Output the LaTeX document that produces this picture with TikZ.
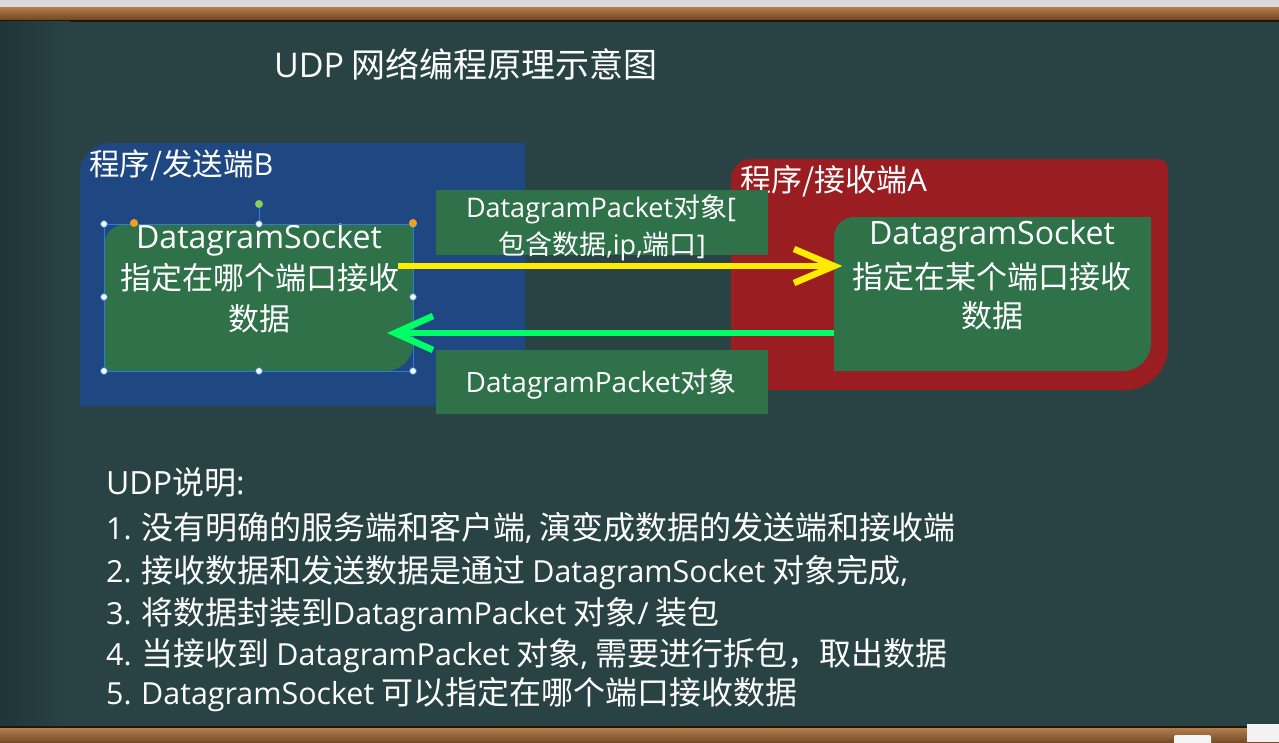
\documentclass[tikz,border=0pt]{standalone}
\usepackage{fontspec}
\setmainfont{Noto Sans CJK SC}
\newfontfamily\latinfam{Open Sans}
\newfontfamily\latinwide[Scale=1.035]{Open Sans}
\newfontfamily\latinnarrow[Scale=0.95]{Open Sans}
\newcommand\engl[1]{{\latinfam #1}}
\newcommand\englw[1]{{\latinwide #1}}
\newcommand\engln[1]{{\latinnarrow #1}}
\newcommand\fsz[1]{\fontsize{#1}{#1}\selectfont}

\definecolor{board}{RGB}{41,67,69}
\definecolor{boardedge}{RGB}{31,53,55}
\definecolor{woodlight}{RGB}{180,126,76}
\definecolor{wooddark}{RGB}{112,70,36}
\definecolor{topgray}{RGB}{218,218,222}
\definecolor{sendblue}{RGB}{31,71,130}
\definecolor{recvred}{RGB}{154,29,33}
\definecolor{boxgreen}{RGB}{47,113,72}
\definecolor{sendyellow}{RGB}{255,236,0}
\definecolor{backgreen}{RGB}{0,255,102}
\definecolor{selblue}{RGB}{45,125,210}
\definecolor{handorange}{RGB}{240,160,30}
\definecolor{handgreen}{RGB}{140,205,90}

\tikzset{
  wtext/.style={text=white, inner sep=0pt, anchor=base},
  ltext/.style={text=white, inner sep=0pt, anchor=base west},
  packetbox/.style={fill=boxgreen, draw=none},
  yline/.style={draw=sendyellow, line width=6.5pt, line join=miter},
  gline/.style={draw=backgreen, line width=6.5pt, line join=miter},
  handle/.style={circle, fill=white, draw=selblue, line width=0.8pt, inner sep=0pt, minimum size=7pt},
  ohandle/.style={circle, fill=handorange, inner sep=0pt, minimum size=8pt},
  rhandle/.style={circle, fill=handgreen, inner sep=0pt, minimum size=8pt},
}

\begin{document}
\begin{tikzpicture}[x=1pt,y=-1pt]
\useasboundingbox (0,0) rectangle (1279,742);

% chalkboard with its wooden frame
\fill[topgray] (0,0) rectangle (1279,7);
\shade[top color=woodlight, bottom color=wooddark] (0,7) rectangle (1279,20);
\fill[black!70!wooddark] (0,20) rectangle (1279,21.5);
\fill[board] (0,21.5) rectangle (1279,726);
\shade[left color=boardedge, right color=board] (0,21.5) rectangle (70,726);
\fill[black!70!wooddark] (0,726) rectangle (1279,728);
\shade[top color=woodlight, bottom color=wooddark!90!woodlight] (0,728) rectangle (1279,742);
\fill[white!92!gray, rounded corners=2pt] (1174,735) rectangle (1211,745);
\fill[white!90!gray] (1247,724) rectangle (1279,742);

% title
\node[wtext, anchor=base west] (title) at (274,77)
  {\fsz{34}\engl{UDP} 网络编程原理示意图};

% sender program area
\fill[sendblue] (80,406) -- (80,173) arc[start angle=180, end angle=270, radius=30]
  -- (525,143) -- (525,406) -- cycle;
\node[ltext] (senderlbl) at (89,175) {\fsz{30.5}程序/发送端\engl{B}};

% receiver program area
\fill[recvred] (731,390) -- (731,179) arc[start angle=180, end angle=270, radius=20]
  -- (1158,159) arc[start angle=270, end angle=360, radius=10]
  -- (1168,347) arc[start angle=0, end angle=90, radius=43] -- cycle;
\node[ltext] (recvlbl) at (740,191) {\fsz{31}程序/接收端\engl{A}};

% sender socket
\fill[boxgreen] (104,371) -- (104,246) arc[start angle=180, end angle=270, radius=22]
  -- (413,224) -- (413,344) arc[start angle=0, end angle=90, radius=27] -- cycle;
\node[wtext] (sockB1) at (259,248) {\fsz{31}\englw{DatagramSocket}};
\node[wtext] (sockB2) at (260,289) {\fsz{31}指定在哪个端口接收};
\node[wtext] (sockB3) at (259,330) {\fsz{31}数据};

% receiver socket
\fill[boxgreen] (834,371) -- (834,237) arc[start angle=180, end angle=270, radius=20]
  -- (1151,217) -- (1151,343) arc[start angle=0, end angle=90, radius=28] -- cycle;
\node[wtext] (sockA1) at (992,244) {\fsz{31}\englw{DatagramSocket}};
\node[wtext] (sockA2) at (992,288) {\fsz{31}指定在某个端口接收};
\node[wtext] (sockA3) at (992,327) {\fsz{31}数据};

% packet labels
\fill[packetbox] (436,190) rectangle (768,255);
\node[wtext] (pkt1) at (601,217) {\fsz{27}\engl{DatagramPacket}对象\engl{[}};
\node[wtext] (pkt2) at (602,254) {\fsz{27}包含数据\engl{,ip,}端口\engl{]}};
\fill[packetbox] (436,350) rectangle (768,414);
\node[wtext] (pkt3) at (601,392) {\fsz{28}\engl{DatagramPacket}对象};

% editor selection frame on the sender socket
\coordinate (selNW) at (104,224);
\coordinate (selSE) at (413,371);
\draw[selblue, line width=0.8pt] (selNW) rectangle (selSE);
\coordinate (rotH) at (259,204);
\draw[selblue, line width=0.8pt] (rotH) -- (259,224);
\node[rhandle] (hrot) at (rotH) {};
\foreach \hx/\hy [count=\i] in {104/224,259/224,413/224,104/297,413/297,104/371,259/371,413/371}
  \node[handle] (h\i) at (\hx,\hy) {};
\node[ohandle] (hadj1) at (134,223) {};
\node[ohandle] (hadj2) at (413,223) {};

% send / reply connectors
\coordinate (ySrc) at (398,266);
\coordinate (yTip) at (834,266);
\draw[yline] (ySrc) -- (yTip);
\draw[yline] ([shift={(-40,-17)}]yTip) -- (yTip) -- ([shift={(-40,17)}]yTip);

\coordinate (gSrc) at (834,333);
\coordinate (gTip) at (395,333);
\draw[gline] (gSrc) -- (gTip);
\draw[gline] ([shift={(38,-17)}]gTip) -- (gTip) -- ([shift={(38,17)}]gTip);

% notes
\node[ltext] (n0) at (106,494) {\fsz{32}\engl{UDP}说明\engl{:}};
\node[ltext] (n1) at (106,539) {\fsz{32}\engln{1.} 没有明确的服务端和客户端\engln{,} 演变成数据的发送端和接收端};
\node[ltext] (n2) at (106,582) {\fsz{32}\engln{2.} 接收数据和发送数据是通过 \engln{DatagramSocket} 对象完成\engln{,}};
\node[ltext] (n3) at (106,624) {\fsz{32}\engln{3.} 将数据封装到\engln{DatagramPacket} 对象\engln{/} 装包};
\node[ltext] (n4) at (106,665) {\fsz{32}\engln{4.} 当接收到 \engln{DatagramPacket} 对象\engln{,} 需要进行拆包，取出数据};
\node[ltext] (n5) at (106,704) {\fsz{32}\engln{5.} \engln{DatagramSocket} 可以指定在哪个端口接收数据};
\end{tikzpicture}
\end{document}
